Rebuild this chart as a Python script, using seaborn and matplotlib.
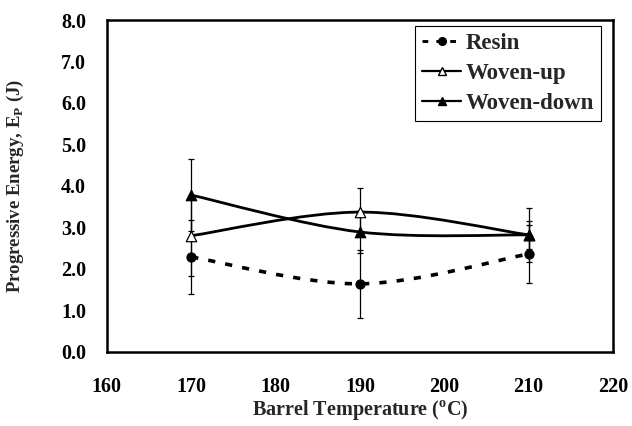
import numpy as np
import pandas as pd
import matplotlib
matplotlib.use("Agg")
import matplotlib.pyplot as plt
import seaborn as sns
from matplotlib.path import Path
from matplotlib.patches import PathPatch
from matplotlib.lines import Line2D

# Data
temperature = [170, 190, 210]
resin = [2.29, 1.64, 2.36]
resin_err = [0.90, 0.82, 0.70]
woven_up = [2.80, 3.37, 2.82]
woven_up_err = [0.97, 0.58, 0.65]
woven_down = [3.78, 2.89, 2.82]
woven_down_err = [0.87, 0.50, 0.33]

series_names = ["Resin", "Woven-up", "Woven-down"]
x_ticks = [160, 170, 180, 190, 200, 210, 220]
y_ticks = [0, 1, 2, 3, 4, 5, 6, 7, 8]

sns.set_style("white")
plt.rcParams['font.family'] = ['Liberation Serif', 'DejaVu Serif']
plt.rcParams['font.weight'] = 'bold'
plt.rcParams['mathtext.fontset'] = 'custom'
plt.rcParams['mathtext.rm'] = 'Liberation Serif:bold'
plt.rcParams['mathtext.bf'] = 'Liberation Serif:bold'

df = pd.DataFrame({
    "temp": temperature * 3,
    "energy": resin + woven_up + woven_down,
    "err": resin_err + woven_up_err + woven_down_err,
    "series": [n for n in series_names for _ in temperature],
})


def smooth_path(xs, ys):
    """Excel-style smoothed line through the points (cubic Bezier)"""
    pts = np.column_stack([xs, ys]).astype(float)
    verts = [pts[0]]
    codes = [Path.MOVETO]
    n = len(pts)
    for i in range(n - 1):
        p0 = pts[max(i - 1, 0)]
        p1 = pts[i]
        p2 = pts[i + 1]
        p3 = pts[min(i + 2, n - 1)]
        c1 = p1 + (p2 - p0) / 6.0
        c2 = p2 - (p3 - p1) / 6.0
        verts += [c1, c2, p2]
        codes += [Path.CURVE4] * 3
    return Path(verts, codes)


fig = plt.figure(figsize=(6.32, 4.26), dpi=100)
ax = fig.add_axes([0.169, 0.174, 0.801, 0.779])

styles = {
    "Resin": dict(ls=(0, (2.0, 2.8)), lw=2.6, marker="o", mfc="black", ms=6.5),
    "Woven-up": dict(ls="-", lw=2.0, marker="^", mfc="white", ms=7.5),
    "Woven-down": dict(ls="-", lw=2.0, marker="^", mfc="black", ms=7.5),
}

for name in series_names:
    d = df[df["series"] == name]
    st = styles[name]
    ax.errorbar(d["temp"], d["energy"], yerr=d["err"], fmt="none",
                ecolor="black", elinewidth=0.9, capsize=2.5, capthick=0.9, zorder=2)
    patch = PathPatch(smooth_path(d["temp"].values, d["energy"].values),
                      facecolor="none", edgecolor="black", lw=st["lw"],
                      linestyle=st["ls"], zorder=3)
    ax.add_patch(patch)

for name in series_names:
    d = df[df["series"] == name]
    st = styles[name]
    sns.scatterplot(x=d["temp"], y=d["energy"], marker=st["marker"],
                    s=st["ms"] ** 2, color=st["mfc"], edgecolor="black",
                    linewidth=0.9, ax=ax, zorder=4, legend=False)

ax.set_xlim(160, 220)
ax.set_ylim(0, 8)
ax.set_xticks(x_ticks)
ax.set_yticks(y_ticks)
ax.set_yticklabels([f"{v:.1f}" for v in y_ticks])
ax.tick_params(axis="both", direction="in", length=4, width=0.8,
               labelsize=14.5, colors="black")
ax.tick_params(axis="x", pad=18)
ax.tick_params(axis="y", pad=15)
for lab in ax.get_xticklabels() + ax.get_yticklabels():
    lab.set_fontweight("bold")
for sp in ax.spines.values():
    sp.set_color("black")
    sp.set_linewidth(1.8)

ax.set_xlabel("Barrel Temperature ($^{\\mathrm{o}}$C)", fontsize=14.5,
              fontweight="bold")
ax.set_ylabel("Progressive Energy, E$_{\\mathrm{P}}$ (J)", fontsize=13.5,
              fontweight="bold")
ax.xaxis.set_label_coords(0.5, -0.14)
ax.yaxis.set_label_coords(-0.16, 0.5)

handles = []
for name in series_names:
    st = styles[name]
    handles.append(Line2D([0], [0], color="black", lw=st["lw"] * 0.8,
                          linestyle=st["ls"], marker=st["marker"],
                          markerfacecolor=st["mfc"], markeredgecolor="black",
                          markersize=st["ms"] * 0.85))
leg = ax.legend(handles, series_names, loc="upper right",
                bbox_to_anchor=(0.976, 0.982), borderaxespad=0,
                frameon=True, fancybox=False,
                edgecolor="black", framealpha=1, handlelength=1.7,
                handletextpad=0.2, borderpad=0.3, labelspacing=0.4,
                prop={"family": "Liberation Serif", "weight": "bold", "size": 16.5})
leg.get_frame().set_linewidth(0.8)

plt.savefig("out.png", dpi=100)
